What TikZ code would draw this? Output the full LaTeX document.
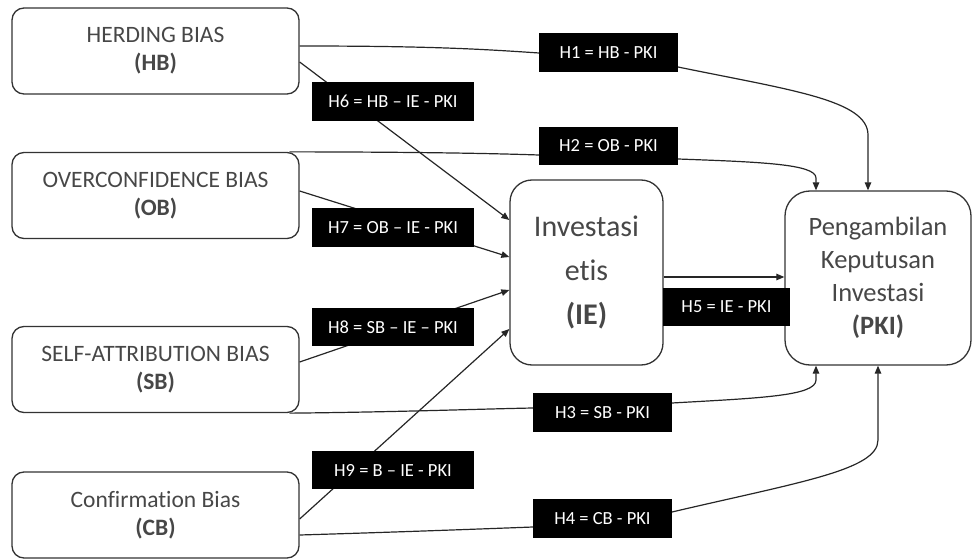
\documentclass[tikz,border=0pt]{standalone}
\usepackage{fontspec}
\setmainfont[Ligatures={NoCommon,NoContextual}]{Carlito}
\usetikzlibrary{calc,arrows.meta}
\begin{document}
\begin{tikzpicture}[x=1pt,y=-1pt,
  bias/.style={draw=black!80,line width=1.3pt,rounded corners=12pt,minimum width=287pt,minimum height=86pt,inner sep=0pt,align=center,text=black!72,font=\fontsize{23.5}{28}\selectfont},
  mid/.style={draw=black!80,line width=1.3pt,rounded corners=22pt,inner sep=0pt,align=center,text=black!72},
  hyp/.style={fill=black,text=white,inner sep=0pt,minimum height=38.5pt,font=\fontsize{18.5}{20}\selectfont},
  conn/.style={draw=black!85,line width=1.2pt},
  arr/.style={conn,-{Triangle[length=8pt,width=6.5pt]}}]
\useasboundingbox (0,0) rectangle (972,559);
% boxes
\node[bias] (HB) at (155.5,51) {HERDING BIAS\\\textbf{(HB)}};
\node[bias] (OB) at (155.5,195.5) {OVERCONFIDENCE BIAS\\\textbf{(OB)}};
\node[bias] (SB) at (155.5,369.5) {SELF-ATTRIBUTION BIAS\\\textbf{(SB)}};
\node[bias] (CB) at (155.5,515) {Confirmat\kern0pt ion Bias\\\textbf{(CB)}};
\node[mid,minimum width=153pt,minimum height=185pt,font=\fontsize{30}{44}\selectfont] (IE) at (586.5,272.5) {Investasi\\et\kern0pt is\\\textbf{(IE)}};
\node[mid,minimum width=186pt,minimum height=174pt,rounded corners=25pt,font=\fontsize{26.5}{33}\selectfont] (PKI) at (878,278) {Pengambilan\\Keputusan\\Investasi\\\textbf{(PKI)}};
% connectors
\draw[arr] ($(HB.east)+(0,-5)$) .. controls (430,46) and (480,49) .. (539,53) -- (608,60) -- (678,67)
  .. controls (790,90) and (868,100) .. (868,135) -- ($(PKI.north)+(-10,0)$);
\draw[arr] ($(OB.north east)+(-10,0)$) .. controls (400,152) and (480,153) .. (539,155) -- (608,157) -- (678,159)
  .. controls (760,162) and (816,164) .. (816,178) -- ($(PKI.north)+(-62,0)$);
\draw[arr] ($(SB.south east)+(-10,0)$) .. controls (400,412) and (480,409) .. (533,408) -- (602,405) -- (672,403)
  .. controls (760,398) and (816,396) .. (816,380) -- ($(PKI.south)+(-62,0)$);
\draw[arr] ($(CB.east)+(0,20)$) .. controls (400,532) and (480,529) .. (533,527) -- (602,520) -- (672,512)
  .. controls (800,482) and (878,470) .. (878,440) -- (PKI.south);
\draw[arr] ($(HB.east)+(0,11)$) -- ($(IE.west)+(0,-52.5)$);
\draw[arr] ($(OB.east)+(0,-4.5)$) -- ($(IE.west)+(0,-15.5)$);
\draw[arr] ($(SB.east)+(0,-7.5)$) -- ($(IE.west)+(0,17.5)$);
\draw[arr] ($(CB.east)+(0,4)$) -- ($(IE.west)+(0,56.5)$);
\draw[arr] ($(IE.east)+(0,4.5)$) -- ($(PKI.west)+(0,-1)$);
% labels
\node[hyp,minimum width=139pt] (h1) at (608.5,52.5) {H1 = HB - PKI};
\node[hyp,minimum width=139pt] (h2) at (608.5,146) {H2 = OB - PKI};
\node[hyp,minimum width=139pt] (h3) at (602.5,412.5) {H3 = SB - PKI};
\node[hyp,minimum width=139pt] (h4) at (602.5,518.5) {H4 = CB - PKI};
\node[hyp,minimum width=127pt] (h5) at (726.5,307) {H5 = IE - PKI};
\node[hyp,minimum width=162pt] (h6) at (393,101.5) {H6 = HB – IE - PKI};
\node[hyp,minimum width=162pt] (h7) at (393,227.5) {H7 = OB – IE - PKI};
\node[hyp,minimum width=162pt] (h8) at (393,327) {H8 = SB – IE – PKI};
\node[hyp,minimum width=162pt] (h9) at (393,470) {H9 = B – IE - PKI};
\end{tikzpicture}
\end{document}
